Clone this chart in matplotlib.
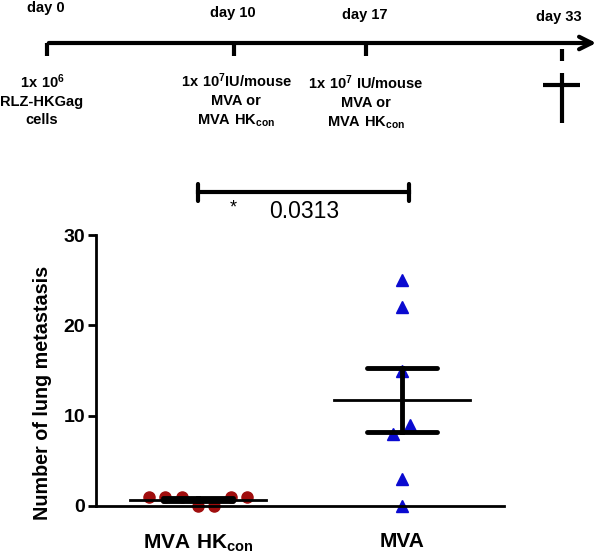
import matplotlib
matplotlib.use('Agg')
import matplotlib.pyplot as plt
import numpy as np

plt.rcParams['font.family'] = 'Liberation Sans'
plt.rcParams['mathtext.fontset'] = 'custom'
plt.rcParams['mathtext.rm'] = 'Liberation Sans'
plt.rcParams['mathtext.bf'] = 'Liberation Sans:bold'

# datos
grupos = [r'$\mathbf{MVA\ HK_{con}}$', 'MVA']
hkcon = [1, 1, 1, 0, 0, 1, 1]
mva = [25, 22, 15, 9, 8, 3, 0]
p_valor = '0.0313'

# linea de tiempo
dias = ['day 0', 'day 10', 'day 17', 'day 33']
textos_dias = [r'$\mathbf{1x\ 10^{6}}$' + '\nRLZ-HKGag\ncells',
               r'$\mathbf{1x\ 10^{7}IU/mouse}$' + '\nMVA or\n' + r'$\mathbf{MVA\ HK_{con}}$',
               r'$\mathbf{1x\ 10^{7}\ IU/mouse}$' + '\nMVA or\n' + r'$\mathbf{MVA\ HK_{con}}$',
               '']

fig = plt.figure(figsize=(6, 5.59), dpi=100)

# capa de dibujo en pixeles
capa = fig.add_axes([0, 0, 1, 1])
capa.set_xlim(0, 600)
capa.set_ylim(559, 0)
capa.axis('off')

# eje del tiempo
capa.annotate('', xy=(599, 43), xytext=(46, 43),
              arrowprops=dict(arrowstyle='->,head_length=0.9,head_width=0.45', lw=3, color='black'))
pos_dias = [47, 234, 366, 562]
for i, d in enumerate(dias):
    x = pos_dias[i]
    if i < 3:
        capa.plot([x, x], [43, 56], color='black', lw=3, solid_capstyle='butt')
    else:
        capa.plot([x, x], [49, 61], color='black', lw=3, solid_capstyle='butt')
    capa.text(x - 1 if i < 3 else x - 3, [8, 13, 15, 17][i], d, ha='center', va='center',
              fontsize=10.5, fontweight='bold')
    if textos_dias[i]:
        capa.text([42, 236, 366][i], [100, 100, 102][i], textos_dias[i], ha='center', va='center',
                  fontsize=10.5, fontweight='bold', linespacing=1.35)
# cruz
capa.plot([562, 562], [73, 123], color='black', lw=3, solid_capstyle='butt')
capa.plot([543, 580], [85, 85], color='black', lw=3, solid_capstyle='butt')

# barra de significancia
capa.plot([198, 409], [192, 192], color='black', lw=3)
capa.plot([198, 198], [184, 201], color='black', lw=3, solid_capstyle='round')
capa.plot([409, 409], [184, 201], color='black', lw=3, solid_capstyle='round')
capa.text(233, 208, '*', ha='center', va='center', fontsize=13)
capa.text(304, 212, p_valor, ha='center', va='center', fontsize=16.5)

# etiqueta eje y
capa.text(43, 393, 'Number of lung metastasis', rotation=90, ha='center', va='center',
          fontsize=14.2, fontweight='bold')

# grafica de puntos
ax = fig.add_axes([96/600, 53/559, 408/600, 271/559])
jit1 = [-0.24, -0.16, -0.08, 0, 0.08, 0.16, 0.24]
jit2 = [0, 0, 0, 0.04, -0.045, 0, 0]
ax.plot(1 + np.array(jit1), hkcon, 'o', color='#a00d0d', markersize=8, clip_on=False, zorder=2)
ax.plot(2 + np.array(jit2), mva, '^', color='#0a0ad0', markersize=8.5, clip_on=False, zorder=2)

for i, vals in enumerate([hkcon, mva]):
    x = i + 1
    m = np.mean(vals)
    sem = np.std(vals, ddof=1) / np.sqrt(len(vals))
    ax.plot([x - 0.333, x + 0.333], [m, m], color='black', lw=2, zorder=3)
    ax.plot([x, x], [m - sem, m + sem], color='black', lw=3.5, zorder=3)
    ax.plot([x - 0.17, x + 0.17], [m + sem, m + sem], color='black', lw=3.5, solid_capstyle='round', zorder=3)
    ax.plot([x - 0.17, x + 0.17], [m - sem, m - sem], color='black', lw=3.5, solid_capstyle='round', zorder=3)

ax.set_xlim(0.5, 2.5)
ax.set_ylim(0, 30)
ax.set_yticks([0, 10, 20, 30])
ax.set_xticks([1, 2])
ax.set_xticklabels(grupos, fontsize=15, fontweight='bold')
ax.tick_params(axis='x', length=0, pad=19)
ax.tick_params(axis='y', width=2, length=6, labelsize=14, pad=2)
for lab in ax.get_yticklabels():
    lab.set_fontweight('bold')
ax.spines['top'].set_visible(False)
ax.spines['right'].set_visible(False)
ax.spines['left'].set_linewidth(2)
ax.spines['bottom'].set_linewidth(2)
ax.patch.set_alpha(0)

fig.savefig('out.png', dpi=100)
